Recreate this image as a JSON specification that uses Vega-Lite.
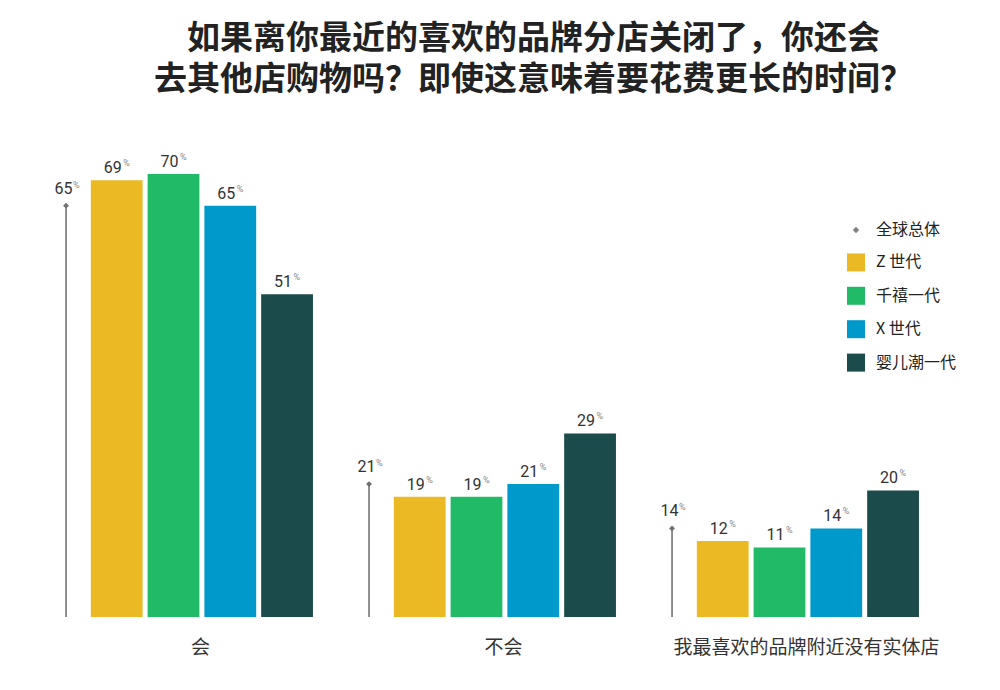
{
  "$schema": "https://vega.github.io/schema/vega-lite/v6.json",
  "autosize": {"type": "none"},
  "width": 909,
  "height": 443,
  "padding": {"left": 22, "top": 174, "right": 69, "bottom": 73},
  "background": "white",
  "title": {
    "text": ["如果离你最近的喜欢的品牌分店关闭了，你还会", "去其他店购物吗？即使这意味着要花费更长的时间？"],
    "font": "Noto Sans CJK SC",
    "fontSize": 33,
    "fontWeight": "bold",
    "color": "#222222",
    "lineHeight": 41,
    "anchor": "middle",
    "frame": "group",
    "dx": 57,
    "offset": 56
  },
  "datasets": {
    "bars": [
      {"group": "会", "series": "Z 世代", "value": 69},
      {"group": "会", "series": "千禧一代", "value": 70},
      {"group": "会", "series": "X 世代", "value": 65},
      {"group": "会", "series": "婴儿潮一代", "value": 51},
      {"group": "不会", "series": "Z 世代", "value": 19},
      {"group": "不会", "series": "千禧一代", "value": 19},
      {"group": "不会", "series": "X 世代", "value": 21},
      {"group": "不会", "series": "婴儿潮一代", "value": 29},
      {"group": "我最喜欢的品牌附近没有实体店", "series": "Z 世代", "value": 12},
      {"group": "我最喜欢的品牌附近没有实体店", "series": "千禧一代", "value": 11},
      {"group": "我最喜欢的品牌附近没有实体店", "series": "X 世代", "value": 14},
      {"group": "我最喜欢的品牌附近没有实体店", "series": "婴儿潮一代", "value": 20}
    ],
    "global": [
      {"group": "会", "series": "全球总体", "value": 65},
      {"group": "不会", "series": "全球总体", "value": 21},
      {"group": "我最喜欢的品牌附近没有实体店", "series": "全球总体", "value": 14}
    ]
  },
  "encoding": {
    "y": {
      "field": "value",
      "type": "quantitative",
      "scale": {"domain": [0, 70], "nice": false},
      "axis": null
    }
  },
  "layer": [
    {
      "data": {"name": "bars"},
      "encoding": {
        "x": {
          "field": "group",
          "type": "nominal",
          "sort": null,
          "scale": {"paddingInner": 0.063, "paddingOuter": 0.0315},
          "axis": {
            "title": null,
            "domain": false,
            "ticks": false,
            "labelAngle": 0,
            "labelFont": "Noto Sans CJK SC",
            "labelFontSize": 19,
            "labelColor": "#333333",
            "labelPadding": 21,
            "labelOffset": 27,
            "labelLimit": 400,
            "encode": {
              "labels": {
                "update": {
                  "x": {"scale": "x", "field": "value", "band": 0.5, "offset": {"signal": "datum.value === '会' ? 9 : 27"}}
                }
              }
            }
          }
        },
        "xOffset": {
          "field": "series",
          "type": "nominal",
          "scale": {
            "domain": ["全球总体", "Z 世代", "千禧一代", "X 世代", "婴儿潮一代"],
            "paddingInner": 0.088,
            "paddingOuter": 0.044
          }
        }
      },
      "layer": [
        {
          "mark": {"type": "bar"},
          "encoding": {
            "color": {
              "field": "series",
              "type": "nominal",
              "scale": {
                "domain": ["全球总体", "Z 世代", "千禧一代", "X 世代", "婴儿潮一代"],
                "range": ["#808080", "#EBB923", "#21BA67", "#0099CC", "#1B4B4A"]
              },
              "legend": {
                "title": null,
                "orient": "none",
                "legendX": 825,
                "legendY": 47,
                "padding": 0,
                "symbolType": "square",
                "symbolSize": 324,
                "symbolStrokeWidth": 0,
                "rowPadding": 15.4,
                "labelOffset": 11,
                "labelFont": "Noto Sans CJK SC",
                "labelFontSize": 16,
                "labelColor": "#222222",
                "encode": {
                  "symbols": {
                    "update": {
                      "shape": {"signal": "datum.value === '全球总体' ? 'diamond' : 'square'"},
                      "size": {"signal": "datum.value === '全球总体' ? 40 : 324"}
                    }
                  }
                }
              }
            }
          }
        },
        {
          "mark": {"type": "text", "align": "center", "baseline": "alphabetic", "dx": -4, "dy": -7, "font": "Roboto", "fontSize": 16, "color": "#333333"},
          "encoding": {"text": {"field": "value", "type": "quantitative"}}
        },
        {
          "mark": {"type": "text", "align": "left", "baseline": "alphabetic", "dx": 6.5, "dy": -14, "font": "Roboto", "fontSize": 9, "color": "#888888", "text": "%"},
          "encoding": {}
        }
      ]
    },
    {
      "data": {"name": "global"},
      "encoding": {
        "x": {"field": "group", "type": "nominal", "sort": null, "bandPosition": 0.1215}
      },
      "layer": [
        {
          "mark": {"type": "rule", "color": "#6a6a6a", "strokeWidth": 1.5},
          "encoding": {"y2": {"datum": 0}}
        },
        {
          "mark": {"type": "point", "shape": "diamond", "filled": true, "size": 35, "color": "#707070", "opacity": 1},
          "encoding": {}
        },
        {
          "mark": {"type": "text", "align": "center", "baseline": "alphabetic", "dx": -2.5, "dy": -12, "font": "Roboto", "fontSize": 16, "color": "#333333"},
          "encoding": {"text": {"field": "value", "type": "quantitative"}}
        },
        {
          "mark": {"type": "text", "align": "left", "baseline": "alphabetic", "dx": 7, "dy": -18, "font": "Roboto", "fontSize": 9, "color": "#888888", "text": "%"},
          "encoding": {}
        }
      ]
    }
  ],
  "config": {"view": {"stroke": null}}
}
